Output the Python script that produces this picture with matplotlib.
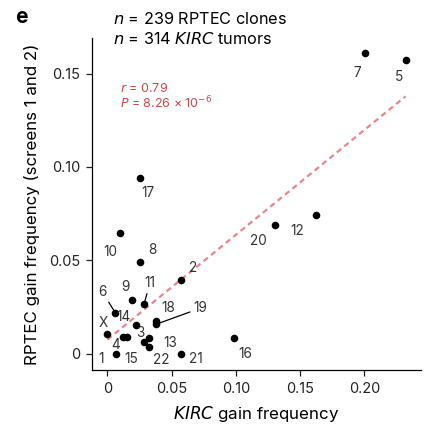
import numpy as np
import matplotlib
matplotlib.use("Agg")
import matplotlib.pyplot as plt

plt.rcParams['font.family'] = ['Inter', 'DejaVu Sans']

chromosomes = ['1', '2', '3', '4', '5', '6', '7', '8', '9', '10', '11', '12',
               '13', '14', '15', '16', '17', '18', '19', '20', '21', '22', 'X']
kirc_gain = [0.0068, 0.0571, 0.0288, 0.0124, 0.2320, 0.0062, 0.2002, 0.0255,
             0.0190, 0.0096, 0.0285, 0.1620, 0.0322, 0.0220, 0.0151, 0.0983,
             0.0254, 0.0381, 0.0381, 0.1302, 0.0571, 0.0322, 0.0000]
rptec_gain = [0.0000, 0.0393, 0.0066, 0.0091, 0.1570, 0.0220, 0.1610, 0.0491,
              0.0288, 0.0645, 0.0266, 0.0745, 0.0084, 0.0155, 0.0091, 0.0087,
              0.0941, 0.0177, 0.0159, 0.0690, 0.0000, 0.0039, 0.0109]
x_ticks = [0, 0.05, 0.10, 0.15, 0.20]
x_ticklabels = ['0', '0.05', '0.10', '0.15', '0.20']
y_ticks = [0, 0.05, 0.10, 0.15]
y_ticklabels = ['0', '0.05', '0.10', '0.15']

# label offsets in pixels (dx, dy), and whether a leader line is drawn
label_offsets = {
    '1': (-15, -5), '2': (12, 12), '3': (-4, 9), '4': (-8, -8), '5': (-7, -17),
    '6': (-13, 21), '7': (-8, -20), '8': (12, 12), '9': (-6, 13), '10': (-9, -19),
    '11': (6, 21), '12': (-18, -16), '13': (21, -5), '14': (-12, 8), '15': (4, -22),
    '16': (12, -16), '17': (8, -15), '18': (12, 13), '19': (44, 16), '20': (-16, -16),
    '21': (15, -5), '22': (13, -13), 'X': (-4, 11),
}
leader = {'6', '11', '19'}

x = np.array(kirc_gain)
y = np.array(rptec_gain)

fig = plt.figure(figsize=(4.33, 4.29), dpi=100)
ax = fig.add_axes([92.3/433, 1-370/429, (421-92.3)/433, (370-38)/429])

# regression line
slope, intercept = np.polyfit(x, y, 1)
xl = np.array([x.min(), x.max()])
ax.plot(xl, slope*xl + intercept, color='#e8868a', lw=1.6, dashes=(2.5, 1.8), zorder=1)

ax.scatter(x, y, s=30, color='black', zorder=3, linewidths=0)

for c, xi, yi in zip(chromosomes, x, y):
    dx, dy = label_offsets[c]
    kw = {}
    if c in leader:
        kw['arrowprops'] = dict(arrowstyle='-', color='black', lw=0.9,
                                shrinkA=0.5, shrinkB=0)
    ax.annotate(c, (xi, yi), xytext=(dx, dy), textcoords='offset pixels',
                ha='center', va='center', fontsize=9.8, color='#333333', **kw)

ax.set_xlim(-0.0117, 0.244)
ax.set_ylim(-0.0086, 0.169)
ax.set_xticks(x_ticks)
ax.set_xticklabels(x_ticklabels)
ax.set_yticks(y_ticks)
ax.set_yticklabels(y_ticklabels)
for s in ['top', 'right']:
    ax.spines[s].set_visible(False)
for s in ['left', 'bottom']:
    ax.spines[s].set_linewidth(0.9)
ax.tick_params(direction='out', length=4.5, width=0.9, labelsize=10.5, colors='#222222', pad=4)

ax.set_xlabel('$\\it{KIRC}$ gain frequency', fontsize=12.2, labelpad=6)
ax.set_ylabel('RPTEC gain frequency (screens 1 and 2)', fontsize=12.2, labelpad=7)

fig.text(113/433, 1-19/429, '$\\it{n}$ = 239 RPTEC clones', fontsize=11.7, ha='left', va='center')
fig.text(113/433, 1-39/429, '$\\it{n}$ = 314 $\\it{KIRC}$ tumors', fontsize=11.7, ha='left', va='center')
fig.text(15/433, 1-17/429, 'e', fontsize=15, fontweight='bold', ha='left', va='center')

red = '#c94a4a'
fig.text(120/433, 1-88/429, '$\\it{r}$ = 0.79', fontsize=9, color=red, ha='left', va='center')
fig.text(120/433, 1-103/429, '$\\it{P}$ = 8.26 × 10$^{-6}$', fontsize=9, color=red, ha='left', va='center')

fig.savefig('out.png', dpi=100)
